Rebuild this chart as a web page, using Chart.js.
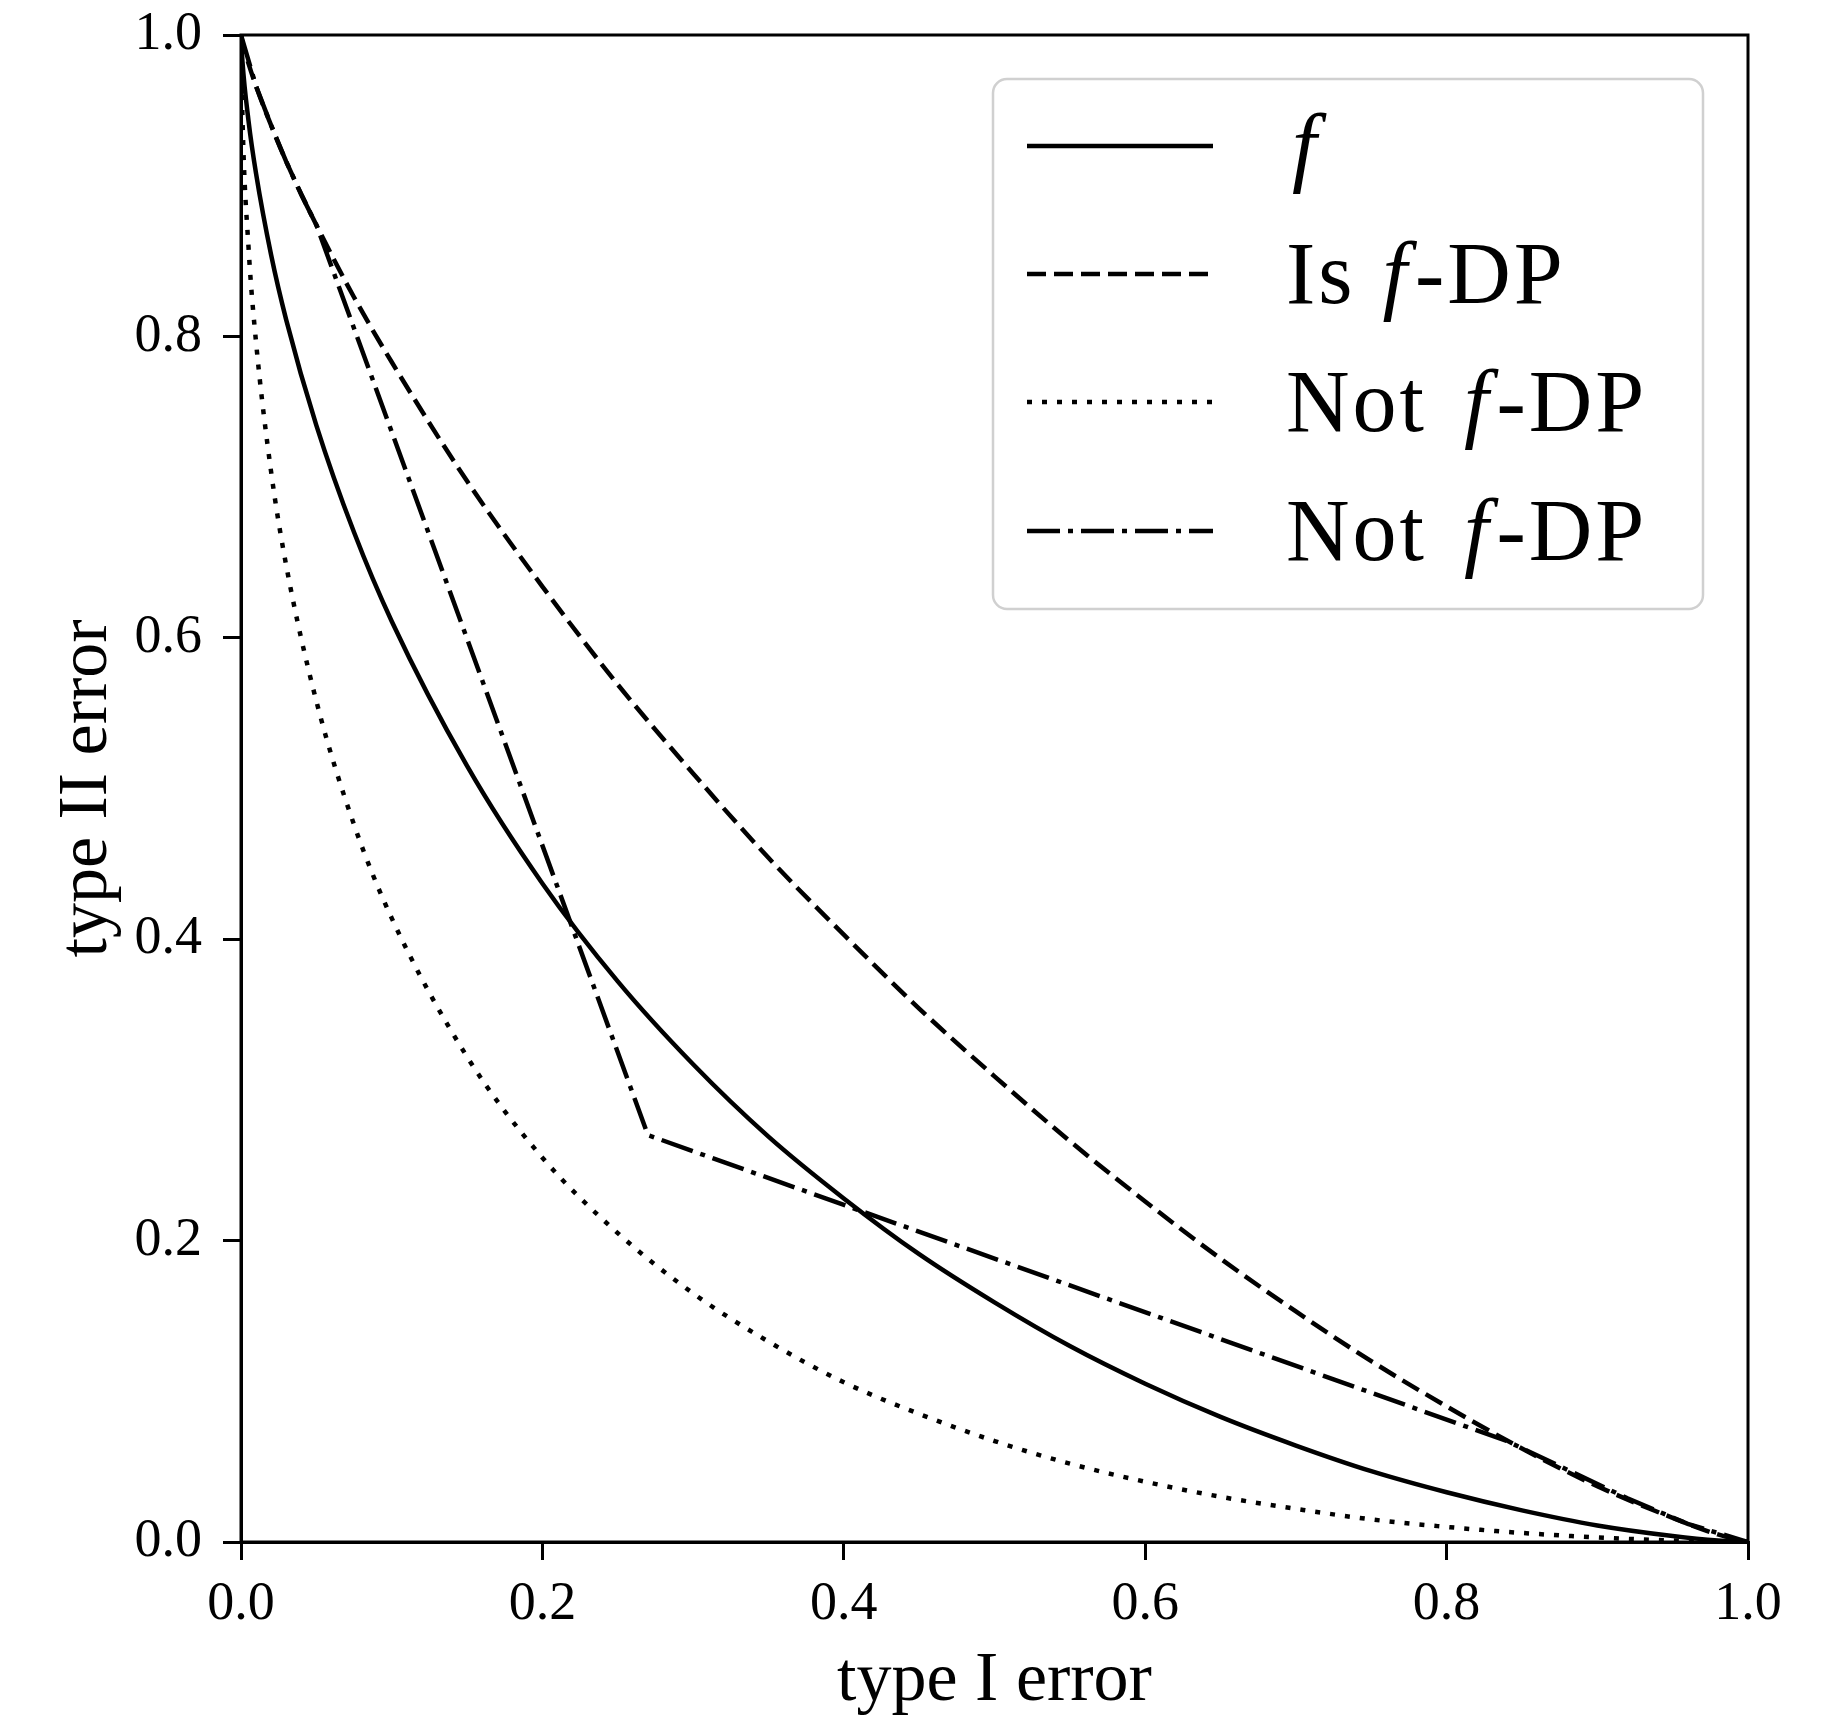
<!DOCTYPE html>
<html>
<head>
<meta charset="utf-8">
<script src="https://cdn.jsdelivr.net/npm/chart.js@4.4.1/dist/chart.umd.min.js"></script>
<style>
    html, body { margin: 0; padding: 0; background: #fff; }
</style>
</head>
<body>
<canvas id="chart" width="1829" height="1717"></canvas>
<script>
// type I error values, shared by the three smooth curves
const alphas = [0, 0.001, 0.005, 0.01, 0.02, 0.03, 0.05, 0.075, 0.1, 0.15, 0.2, 0.25, 0.3, 0.35, 0.4, 0.45, 0.5, 0.55, 0.6, 0.65, 0.7, 0.75, 0.8, 0.85, 0.9, 0.95, 0.98, 1];

// type II error of each curve
const fValues     = [1, 0.982, 0.943, 0.908, 0.854, 0.811, 0.741, 0.670, 0.611, 0.515, 0.437, 0.372, 0.317, 0.269, 0.228, 0.191, 0.159, 0.130, 0.105, 0.083, 0.064, 0.047, 0.033, 0.021, 0.011, 0.004, 0.001, 0];
const isDpValues  = [1, 0.995, 0.981, 0.966, 0.940, 0.916, 0.874, 0.826, 0.783, 0.704, 0.634, 0.569, 0.510, 0.454, 0.403, 0.354, 0.309, 0.266, 0.226, 0.188, 0.153, 0.120, 0.090, 0.062, 0.037, 0.016, 0.005, 0];
const notDpValues = [1, 0.944, 0.859, 0.796, 0.710, 0.648, 0.558, 0.476, 0.414, 0.322, 0.255, 0.205, 0.165, 0.133, 0.106, 0.085, 0.067, 0.052, 0.040, 0.030, 0.022, 0.015, 0.010, 0.006, 0.003, 0.001, 0.0001, 0];

// the broken (dash-dot) curve
const kinkX = [0, 0.01, 0.02, 0.03, 0.04, 0.05, 0.27, 0.84, 0.88, 0.92, 0.96, 1];
const kinkY = [1, 0.966, 0.94, 0.916, 0.894, 0.874, 0.27, 0.067, 0.048, 0.029, 0.012, 0];

const tickValues = [0, 0.2, 0.4, 0.6, 0.8, 1.0];
const seriesLabels = ['f', 'Is f-DP', 'Not f-DP', 'Not f-DP'];

const toPoints = (xs, ys) => xs.map((x, i) => ({ x: x, y: ys[i] }));

const serif = '"Liberation Serif", "DejaVu Serif", serif';
const LW = 4.5;

// legend drawn inside the plot, top right
const boxLegend = {
    id: 'boxLegend',
    afterDraw(chart) {
        const ctx = chart.ctx;
        const a = chart.chartArea;

        // top and right spines
        ctx.save();
        ctx.strokeStyle = '#000';
        ctx.lineWidth = 3;
        ctx.strokeRect(a.left, a.top, a.right - a.left, a.bottom - a.top);
        ctx.restore();

        const bx = 993, by = 79, bw = 710, bh = 530;
        ctx.save();
        ctx.beginPath();
        ctx.roundRect(bx, by, bw, bh, 14);
        ctx.fillStyle = 'rgba(255,255,255,0.85)';
        ctx.fill();
        ctx.strokeStyle = '#d0d0d0';
        ctx.lineWidth = 2.5;
        ctx.stroke();

        const rows = [146, 274, 402, 531];
        const size = 88;
        chart.data.datasets.forEach((ds, i) => {
            const y = rows[i];
            ctx.beginPath();
            ctx.setLineDash(ds.borderDash || []);
            ctx.lineWidth = ds.borderWidth;
            ctx.strokeStyle = '#000';
            ctx.moveTo(1027, y);
            ctx.lineTo(1213, y);
            ctx.stroke();
            ctx.setLineDash([]);

            // italic for the math "f"
            let x = 1286;
            const parts = ds.label.split(/(\bf\b)/).filter(p => p !== '');
            ctx.fillStyle = '#000';
            ctx.textBaseline = 'alphabetic';
            parts.forEach((p, k) => {
                const italic = p === 'f';
                ctx.font = (italic ? 'italic ' : '') + size + 'px ' + serif;
                ctx.letterSpacing = italic ? '0px' : '3px';
                if (italic && k > 0) x += p === parts[k] && parts[k - 1] === 'Is ' ? 2 : 12;
                if (italic && k === 0) x += 6;
                ctx.fillText(p, x, y + size * 0.33);
                x += ctx.measureText(p).width + (italic ? 8 : 0);
            });
        });
        ctx.restore();
    }
};

const ctx = document.getElementById('chart').getContext('2d');
new Chart(ctx, {
    type: 'line',
    data: {
        datasets: [
            { label: seriesLabels[0], data: toPoints(alphas, fValues), borderDash: [] },
            { label: seriesLabels[1], data: toPoints(alphas, isDpValues), borderDash: [19, 8] },
            { label: seriesLabels[2], data: toPoints(alphas, notDpValues), borderDash: [5, 10] },
            { label: seriesLabels[3], data: toPoints(kinkX, kinkY), borderDash: [33, 8, 5, 8], cubicInterpolationMode: 'default', tension: 0 }
        ].map(ds => Object.assign({
            borderColor: '#000',
            borderWidth: LW,
            pointRadius: 0,
            fill: false,
            cubicInterpolationMode: 'monotone'
        }, ds))
    },
    options: {
        responsive: false,
        animation: false,
        layout: { padding: { top: 35, right: 81, left: 0, bottom: 0 } },
        plugins: {
            legend: { display: false },
            tooltip: { enabled: false }
        },
        scales: {
            x: {
                type: 'linear',
                min: 0,
                max: 1,
                afterFit: s => { s.height = 175; s.paddingLeft = 0; s.paddingRight = 0; },
                afterBuildTicks: s => { s.ticks = tickValues.map(v => ({ value: v })); },
                ticks: {
                    callback: v => v.toFixed(1),
                    color: '#000',
                    font: { family: serif, size: 54 },
                    padding: 12,
                    maxRotation: 0
                },
                grid: { drawOnChartArea: false, drawTicks: true, tickLength: 18, color: '#000', lineWidth: 3 },
                border: { color: '#000', width: 3 },
                title: {
                    display: true,
                    text: 'type I error',
                    color: '#000',
                    font: { family: serif, size: 70, lineHeight: 1.0 },
                    padding: 0
                }
            },
            y: {
                type: 'linear',
                min: 0,
                max: 1,
                afterFit: s => { s.width = 241; s.paddingTop = 0; s.paddingBottom = 0; },
                afterBuildTicks: s => { s.ticks = tickValues.map(v => ({ value: v })); },
                ticks: {
                    callback: v => v.toFixed(1),
                    color: '#000',
                    font: { family: serif, size: 54 },
                    padding: 21
                },
                grid: { drawOnChartArea: false, drawTicks: true, tickLength: 18, color: '#000', lineWidth: 3 },
                border: { color: '#000', width: 3 },
                title: {
                    display: true,
                    text: 'type II error',
                    color: '#000',
                    font: { family: serif, size: 70 },
                    padding: { top: 46, bottom: 0 }
                }
            }
        }
    },
    plugins: [boxLegend]
});
</script>
</body>
</html>
